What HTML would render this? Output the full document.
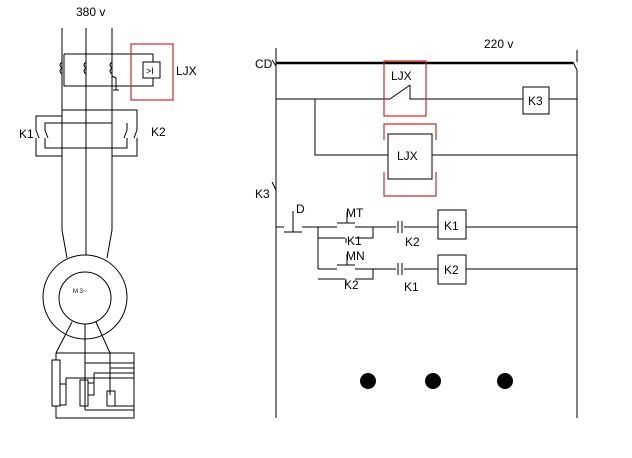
<!DOCTYPE html>
<html><head><style>body{margin:0;background:#fff}svg{display:block}text{font-family:"Liberation Sans",sans-serif;font-size:12px;fill:#000}</style></head><body>
<svg width="632" height="458" viewBox="0 0 632 458" xmlns="http://www.w3.org/2000/svg">
<g stroke="#000" stroke-width="1" fill="none">
<line x1="62" y1="28" x2="62" y2="230"/><line x1="86" y1="28" x2="86" y2="255"/><line x1="112" y1="28" x2="112" y2="230"/>
<line x1="62" y1="230" x2="67" y2="258"/><line x1="112" y1="230" x2="107" y2="258"/>
<path d="M64 54 H153 V62 M64 54 V86 H153 V78"/>
<path d="M62 62 q-4 3 0 6 q-4 3 0 6 M86 62 q-4 3 0 6 q-4 3 0 6 M112 62 q-4 3 0 6 q-4 3 0 6"/>
<line x1="112" y1="76" x2="116" y2="78"/><line x1="116" y1="78" x2="116" y2="90"/><line x1="113" y1="90" x2="119" y2="90"/>
<rect x="143" y="62" width="17" height="16"/>
<path d="M62 110 H137 V130 M137 138 V156 H112 M36 138 V156 H62 M36 130 V116 H62"/>
<path d="M45 130 V123 H112 M127 130 V123 M45 138 V148 H127 V138 M112 123 V110"/>
<path d="M36 130 l3 8 M45 130 l3 8 M127 130 l-3 8 M137 130 l-3 8"/>
<circle cx="85" cy="297" r="42"/><circle cx="85" cy="298" r="26"/>
<path d="M72 322 L56 353 M85 324 V410 M96 322 L110 353 V395"/>
<path d="M56 353 H134 V418 H56 V406 M56 353 V360"/>
<rect x="52" y="360" width="8" height="46"/><rect x="80" y="380" width="8" height="26"/><rect x="107" y="391" width="8" height="15"/>
<path d="M85 363 H134 M110 368 H134 M94 373 H134 M66 378 H134 M66 378 V405 H60 M94 373 V395 H88 M85 410 H134 M115 406 H134"/>
<path d="M60 384 H66 M88 383 H94"/>
<line x1="276" y1="48" x2="276" y2="418"/>
<line x1="276" y1="63" x2="573" y2="63" stroke-width="2.5"/>
<path d="M577 50 V62 M573 62 l4 8 M577 70 V418"/>
<path d="M272 60 l4 6 M272 182 l4 8"/>
<path d="M276 99 H390 M390 99 L410 85 M410 85 V99 H523 M549 99 H577"/>
<rect x="523" y="87" width="26" height="27"/>
<path d="M315 99 V155 H388 M432 155 H577"/>
<rect x="388" y="134" width="44" height="45"/>
<path d="M276 227 H284 M302 227 H318 M318 227 H337 M355 227 H396 M404 227 H438 M466 227 H577"/>
<path d="M284 232 H302 M293 211 V232"/>
<path d="M337 223 H355 M347 212 V223 M318 227 V269 M318 238 H345 M355 238 H373 V227 M346 238 V243 M318 269 H337 M355 269 H396 M404 269 H438 M466 269 H577"/>
<path d="M337 265 H355 M347 254 V265 M318 279 H345 M355 279 H373 V269 M346 279 V284"/>
<path d="M398 221 V233 M402 221 V233 M398 263 V275 M402 263 V275"/>
<rect x="438" y="210" width="28" height="29"/><rect x="438" y="255" width="28" height="29"/>
</g>
<g stroke="#d0272a" fill="none" stroke-width="1.2">
<rect x="131" y="44" width="42" height="56"/>
<rect x="384" y="61" width="42" height="55"/>
<path d="M384 140 V124 H436 V140 M384 172 V196 H436 V172"/>
</g>
<g fill="#000"><circle cx="368" cy="381" r="8"/><circle cx="433" cy="381" r="8"/><circle cx="505" cy="381" r="8"/></g>
<text x="76" y="16">380 v</text>
<text x="146" y="74" style="font-size:9px">&gt;I</text>
<text x="176" y="75">LJX</text>
<text x="19" y="138">K1</text>
<text x="151" y="136">K2</text>
<text x="73" y="293" style="font-size:6px">M 3~</text>
<text x="484" y="48">220 v</text>
<text x="255" y="68">CD</text>
<text x="391" y="80">LJX</text>
<text x="528" y="105">K3</text>
<text x="397" y="160">LJX</text>
<text x="255" y="198">K3</text>
<text x="296" y="213">D</text>
<text x="346" y="217">MT</text>
<text x="347" y="245">K1</text>
<text x="405" y="246">K2</text>
<text x="444" y="230">K1</text>
<text x="346" y="260">MN</text>
<text x="344" y="289">K2</text>
<text x="404" y="291">K1</text>
<text x="444" y="274">K2</text>
</svg>
</body></html>
